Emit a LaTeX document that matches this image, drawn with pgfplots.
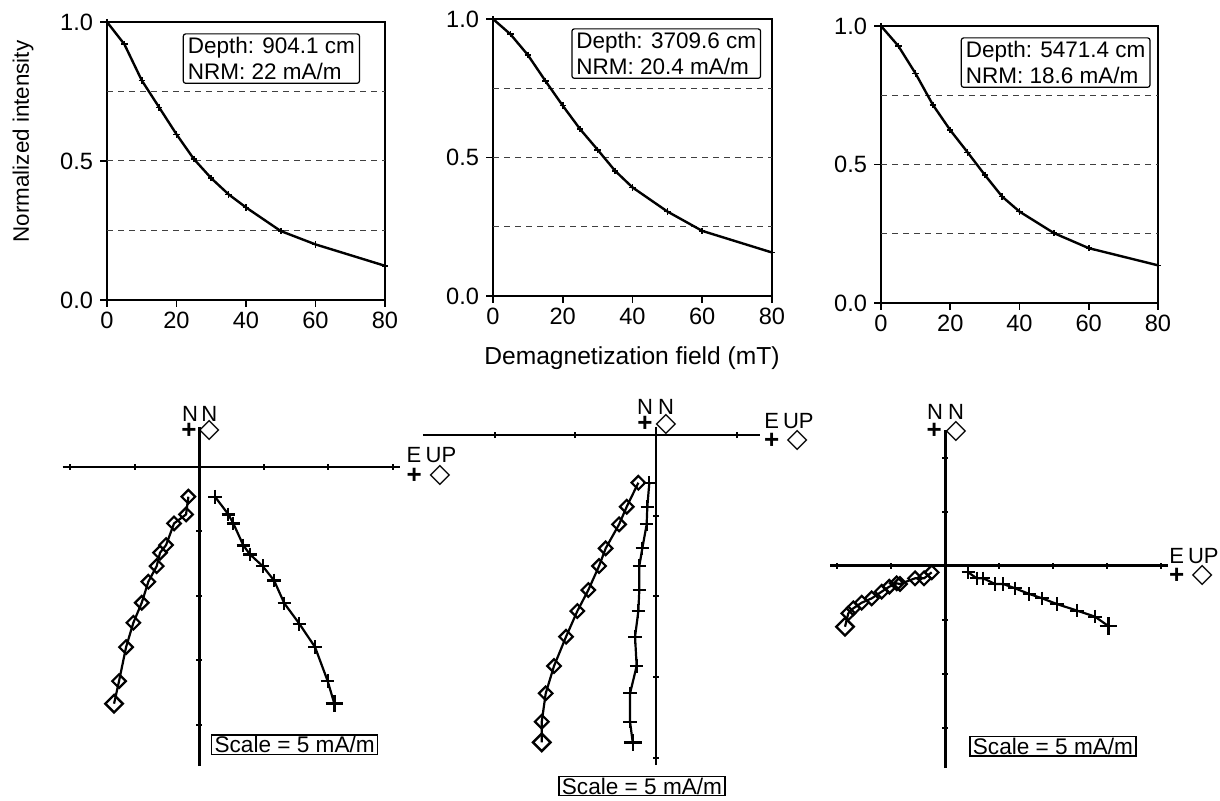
\documentclass[border=0pt]{standalone}
\usepackage{fontspec}
\setmainfont{Liberation Sans}
\newfontfamily\symfont{DejaVu Sans}
\usepackage{pgfplots}
\pgfplotsset{compat=1.18}

\tikzset{refline/.style={line width=0.5pt, black!75, dash pattern=on 3pt off 2.5pt}}

\pgfplotsset{
  demag/.style={
    scale only axis, width=139pt, height=139pt,
    xmin=0, xmax=80, ymin=0, ymax=1,
    xtick={0,20,...,80}, ytick={0,0.5,1},
    yticklabel style={/pgf/number format/fixed,
      /pgf/number format/fixed zerofill, /pgf/number format/precision=1},
    /pgf/number format/assume math mode=true,
    tick align=outside, xtick pos=left, ytick pos=left,
    major tick length=3.5pt,
    axis line style={line width=1.2pt},
    tick style={line width=0.8pt, black},
    ticklabel style={font=\fontsize{11.8}{13}\selectfont},
    xticklabel style={yshift=1pt},
    clip=false,
  },
  curve/.style={black, line width=1.2pt, mark=+, mark size=1.6pt, mark options={line width=0.8pt}},
  zij/.style={
    axis lines=middle,
    axis line style={-, line width=1.2pt},
    xticklabels={}, yticklabels={},
    tick align=center, major tick length=3pt,
    tick style={line width=1pt, black},
    clip=false,
  },
  plusline/.style={black, line width=1.1pt, mark=+, mark size=3.4pt,
    mark options={line width=1.1pt}, mark indices={2,3,4,5,6,7,8,9,10,11,12}},
  diamline/.style={black, line width=1.1pt, mark=square, mark size=2.4pt,
    mark options={rotate=45, line width=1.1pt}, mark indices={2,3,4,5,6,7,8,9,10,11,12}},
  bigplus/.style={only marks, mark=+, mark size=4.4pt, mark options={line width=1.2pt, black}},
  bigdiam/.style={only marks, mark=square, mark size=3.1pt, mark options={rotate=45, line width=1.2pt, black}},
}

\begin{document}
\begin{tikzpicture}
\path[use as bounding box] (0,0) rectangle (610pt,-400.5pt);

% ---- top row: AF demagnetization curves
\begin{axis}[demag, at={(53.5pt,-150pt)}, anchor=south west]
  \draw[refline] (axis cs:0,0.25) -- (axis cs:80,0.25);
  \draw[refline] (axis cs:0,0.5) -- (axis cs:80,0.5);
  \draw[refline] (axis cs:0,0.75) -- (axis cs:80,0.75);
  \addplot[curve] coordinates {(0,1)(5,0.92)(10,0.79)(15,0.693)(20,0.596)(25,0.507)(30,0.438)(35,0.38)(40,0.333)(50,0.248)(60,0.2)(80,0.123)};
\end{axis}

\begin{axis}[demag, at={(246.5pt,-148pt)}, anchor=south west, width=139.5pt, height=138.5pt]
  \draw[refline] (axis cs:0,0.25) -- (axis cs:80,0.25);
  \draw[refline] (axis cs:0,0.5) -- (axis cs:80,0.5);
  \draw[refline] (axis cs:0,0.75) -- (axis cs:80,0.75);
  \addplot[curve] coordinates {(0,1)(5,0.945)(10,0.87)(15,0.777)(20,0.687)(25,0.602)(30,0.528)(35,0.452)(40,0.392)(50,0.305)(60,0.235)(80,0.157)};
\end{axis}

\begin{axis}[demag, at={(440.5pt,-151.5pt)}, anchor=south west, width=138.5pt, height=138.5pt]
  \draw[refline] (axis cs:0,0.25) -- (axis cs:80,0.25);
  \draw[refline] (axis cs:0,0.5) -- (axis cs:80,0.5);
  \draw[refline] (axis cs:0,0.75) -- (axis cs:80,0.75);
  \addplot[curve] coordinates {(0,1)(5,0.928)(10,0.828)(15,0.715)(20,0.624)(25,0.544)(30,0.462)(35,0.384)(40,0.33)(50,0.252)(60,0.198)(80,0.136)};
\end{axis}

\node[rotate=90, font=\fontsize{11.2}{13}\selectfont] at (11.5pt,-70.75pt) {Normalized intensity};
\node[anchor=base, font=\fontsize{12.3}{14}\selectfont] at (316pt,-182.5pt) {Demagnetization field (mT)};

\tikzset{infobox/.style={draw, line width=0.6pt, rounded corners=1.2pt, anchor=north west,
  align=left, inner xsep=2.25pt, inner ysep=1.8pt, font=\fontsize{11.25}{12.85}\selectfont}}
\node[infobox] at (91.35pt,-16.65pt) {Depth: 904.1 cm\\NRM: 22 mA/m};
\node[infobox] at (285.65pt,-14.15pt) {Depth: 3709.6 cm\\NRM: 20.4 mA/m};
\node[infobox] at (480.35pt,-18.65pt) {Depth: 5471.4 cm\\NRM: 18.6 mA/m};

% ---- bottom row: orthogonal vector plots
\begin{axis}[zij, x=32.25pt, y=32.25pt, xmin=-2.12, xmax=3.11, ymin=-4.64, ymax=0.61,
  xtick={-2,-1,1,2,3}, ytick={-4,-3,-2,-1}, at={(31.3pt,-383pt)}, anchor=south west]
  \addplot[diamline] coordinates {(-1.322,-3.674)(-1.245,-3.324)(-1.136,-2.797)(-1.023,-2.419)(-0.893,-2.109)(-0.791,-1.783)(-0.661,-1.541)(-0.609,-1.333)(-0.516,-1.215)(-0.392,-0.879)(-0.206,-0.740)(-0.170,-0.465)};
  \addplot[bigdiam] coordinates {(-1.322,-3.674)};
  \addplot[plusline] coordinates {(2.093,-3.674)(1.990,-3.324)(1.794,-2.797)(1.550,-2.434)(1.318,-2.119)(1.158,-1.763)(0.982,-1.541)(0.786,-1.360)(0.682,-1.220)(0.527,-0.879)(0.450,-0.740)(0.243,-0.465)};
  \addplot[bigplus] coordinates {(2.093,-3.674)};
\end{axis}

\begin{axis}[zij, x=40.35pt, y=40.35pt, xmin=-2.89, xmax=1.29, ymin=-4.09, ymax=0.10,
  xtick={-2,-1,1}, ytick={-4,-3,-2,-1}, at={(211.4pt,-382.55pt)}, anchor=south west]
  \addplot[diamline] coordinates {(-1.416,-3.808)(-1.416,-3.552)(-1.367,-3.201)(-1.264,-2.862)(-1.115,-2.499)(-0.975,-2.181)(-0.839,-1.921)(-0.706,-1.623)(-0.624,-1.404)(-0.458,-1.107)(-0.363,-0.888)(-0.219,-0.591)};
  \addplot[bigdiam] coordinates {(-1.416,-3.808)};
  \addplot[plusline] coordinates {(-0.289,-3.808)(-0.322,-3.552)(-0.322,-3.201)(-0.240,-2.862)(-0.260,-2.499)(-0.219,-2.181)(-0.207,-1.921)(-0.207,-1.623)(-0.170,-1.404)(-0.116,-1.107)(-0.108,-0.888)(-0.083,-0.591)};
  \addplot[bigplus] coordinates {(-0.289,-3.808)};
\end{axis}

\begin{axis}[zij, x=27pt, y=27pt, xmin=-2.135, xmax=4.13, ymin=-3.75, ymax=2.51,
  xtick={-2,-1,1,2,3,4}, ytick={-3,-2,-1,1,2}, at={(415pt,-384.1pt)}, anchor=south west]
  \addplot[diamline] coordinates {(-1.857,-1.130)(-1.796,-0.882)(-1.704,-0.790)(-1.548,-0.685)(-1.363,-0.605)(-1.178,-0.481)(-1.037,-0.389)(-0.900,-0.327)(-0.839,-0.339)(-0.561,-0.234)(-0.394,-0.234)(-0.252,-0.123)};
  \addplot[bigdiam] coordinates {(-1.857,-1.130)};
  \addplot[plusline] coordinates {(3.019,-1.117)(2.772,-0.944)(2.444,-0.833)(2.063,-0.709)(1.796,-0.605)(1.556,-0.524)(1.291,-0.419)(1.074,-0.339)(0.920,-0.339)(0.704,-0.234)(0.581,-0.234)(0.426,-0.123)};
  \addplot[bigplus] coordinates {(3.019,-1.117)};
\end{axis}

% axis names and symbol keys
\tikzset{axname/.style={font=\fontsize{11}{12}\selectfont, inner sep=0pt},
  keyplus/.style={font=\fontsize{13}{12}\selectfont\bfseries, inner sep=0pt},
  keydiam/.style={font=\fontsize{13.5}{12}\selectfont\symfont, inner sep=0pt}}
% panel 1
\node[axname] at (95pt,-207.2pt) {N};
\node[axname] at (104.65pt,-207.2pt) {N};
\node[keyplus] at (94.5pt,-215.35pt) {+};
\node[keydiam] at (104.65pt,-215.35pt) {◇};
\node[axname] at (207pt,-227.5pt) {E};
\node[axname] at (220.5pt,-227.5pt) {UP};
\node[keyplus] at (207.15pt,-237.85pt) {+};
\node[keydiam] at (220pt,-237.85pt) {◇};
% panel 2
\node[axname] at (322.5pt,-203.6pt) {N};
\node[axname] at (333pt,-203.6pt) {N};
\node[keyplus] at (322.5pt,-212pt) {+};
\node[keydiam] at (333pt,-212pt) {◇};
\node[axname] at (385.85pt,-210.4pt) {E};
\node[axname] at (399.15pt,-210.4pt) {UP};
\node[keyplus] at (385.85pt,-220.35pt) {+};
\node[keydiam] at (398.65pt,-220.35pt) {◇};
% panel 3
\node[axname] at (467.5pt,-206pt) {N};
\node[axname] at (478pt,-206pt) {N};
\node[keyplus] at (467.15pt,-215.5pt) {+};
\node[keydiam] at (478pt,-215.5pt) {◇};
\node[axname] at (588.35pt,-277.9pt) {E};
\node[axname] at (601.65pt,-277.9pt) {UP};
\node[keyplus] at (588.35pt,-287.85pt) {+};
\node[keydiam] at (601.15pt,-287.85pt) {◇};

\tikzset{scalebox/.style={draw, line width=0.6pt, anchor=north west, inner xsep=1.5pt,
  inner ysep=0.7pt, font=\fontsize{11.3}{13}\selectfont}}
\node[scalebox] at (105.5pt,-367.15pt) {Scale = 5 mA/m};
\node[scalebox] at (279.15pt,-387.85pt) {Scale = 5 mA/m};
\node[scalebox] at (484.65pt,-368pt) {Scale = 5 mA/m};
\end{tikzpicture}
\end{document}
